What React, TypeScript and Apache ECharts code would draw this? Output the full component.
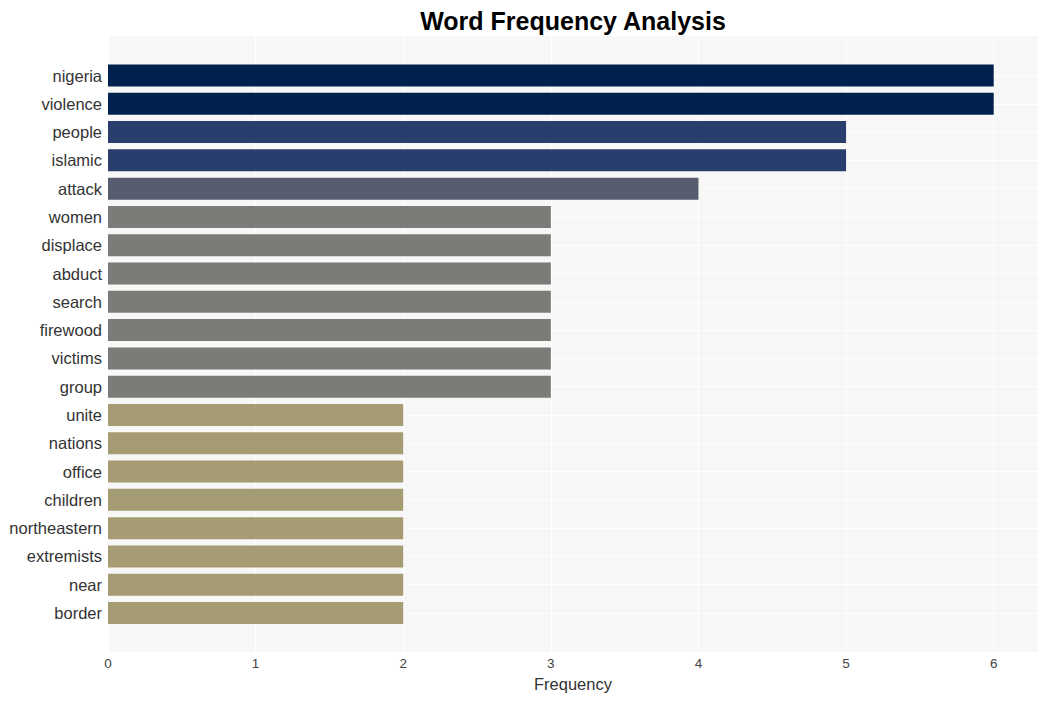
import React, { useEffect, useRef } from "react";
import * as echarts from "echarts";

const words = [
  "nigeria", "violence", "people", "islamic", "attack", "women", "displace", "abduct",
  "search", "firewood", "victims", "group", "unite", "nations", "office", "children",
  "northeastern", "extremists", "near", "border",
];
const freq = [6, 6, 5, 5, 4, 3, 3, 3, 3, 3, 3, 3, 2, 2, 2, 2, 2, 2, 2, 2];
const xTicks = [0, 1, 2, 3, 4, 5, 6];
const colorByFreq: Record<number, string> = {
  6: "#00204e",
  5: "#2a3e6e",
  4: "#575c6e",
  3: "#7c7b78",
  2: "#a59c74",
};

export default function App() {
  const ref = useRef<HTMLDivElement>(null);
  useEffect(() => {
    document.body.style.margin = "0";
    const chart = echarts.init(ref.current!, undefined, { renderer: "svg" });
    const font = "Liberation Sans, Arial, sans-serif";
    chart.setOption({
      animation: false,
      title: {
        text: "Word Frequency Analysis",
        left: 568,
        textAlign: "center",
        top: 3,
        textStyle: { fontFamily: font, fontSize: 25, fontWeight: "bold", color: "#000" },
      },
      grid: [
        { left: 108, right: 10, top: 36, bottom: 49, show: true, backgroundColor: "#f7f7f7", borderWidth: 0 },
        { left: 108, right: 10, top: 75.5, bottom: 88 },
      ],
      xAxis: [
        {
          gridIndex: 0,
          type: "value",
          min: 0,
          max: 6.3,
          interval: 1,
          axisLine: { show: false },
          axisTick: { show: false },
          axisLabel: {
            fontFamily: font,
            fontSize: 13.5,
            color: "#444",
            margin: 4,
            formatter: (v: number) => (xTicks.includes(v) ? String(v) : ""),
          },
          splitLine: { show: true, showMaxLine: false, lineStyle: { color: "#ffffff", width: 1.2 } },
          name: "Frequency",
          nameLocation: "middle",
          nameGap: 23,
          nameTextStyle: { fontFamily: font, fontSize: 16.5, color: "#333" },
        },
        {
          gridIndex: 1,
          type: "value",
          min: 0,
          max: 6.3,
          show: false,
        },
      ],
      yAxis: [
        { gridIndex: 0, type: "value", show: false, splitLine: { show: false } },
        {
          gridIndex: 1,
          type: "category",
          data: words,
          inverse: true,
          boundaryGap: false,
          axisLine: { show: false },
          axisTick: { show: false },
          axisLabel: { fontFamily: font, fontSize: 16.5, color: "#333", margin: 6 },
          splitLine: { show: true, lineStyle: { color: "#ffffff", width: 1 } },
        },
      ],
      series: [
        {
          type: "bar",
          xAxisIndex: 1,
          yAxisIndex: 1,
          barWidth: 22,
          clip: false,
          data: freq.map((v) => ({ value: v, itemStyle: { color: colorByFreq[v] } })),
        },
      ],
    });
    return () => chart.dispose();
  }, []);
  return <div ref={ref} style={{ width: 1048, height: 701 }} />;
}
